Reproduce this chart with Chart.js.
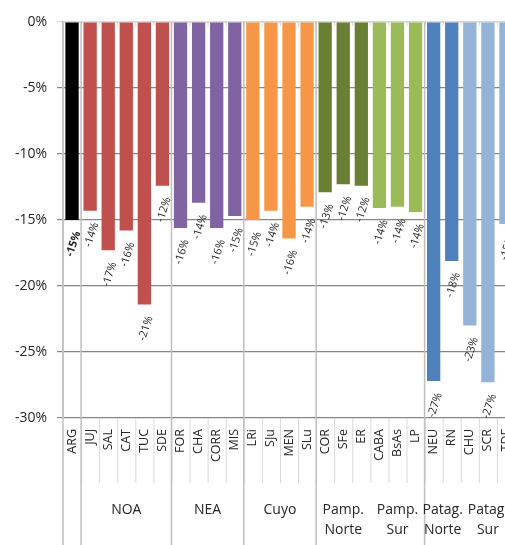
<!DOCTYPE html>
<html>
<head>
<meta charset="utf-8">
<title>Variación por provincia</title>
<script src="https://cdn.jsdelivr.net/npm/chart.js@4.4.1/dist/chart.umd.min.js"></script>
<style>
  html, body { margin: 0; padding: 0; background: #fff; overflow: hidden; }
</style>
</head>
<body>
<canvas id="provincias_chart" width="522" height="545"></canvas>
<script>
// provincias (nivel 1)
const provincias = ['ARG', 'JUJ', 'SAL', 'CAT', 'TUC', 'SDE', 'FOR', 'CHA', 'CORR', 'MIS',
    'LRi', 'SJu', 'MEN', 'SLu', 'COR', 'SFe', 'ER', 'CABA', 'BsAs', 'LP',
    'NEU', 'RN', 'CHU', 'SCR', 'TDF'];

// variacion en %
const variacion = [-15.0, -14.3, -17.3, -15.8, -21.4, -12.4, -15.6, -13.7, -15.6, -14.7,
    -15.0, -14.3, -16.4, -14.0, -12.9, -12.3, -12.4, -14.1, -14.0, -14.4,
    -27.2, -18.1, -23.0, -27.3, -15.3];

// regiones (nivel 2): nombre, primera y ultima provincia
const regiones = [['NOA'], ['NEA'], ['Cuyo'], ['Pamp.', 'Norte'], ['Pamp.', 'Sur'], ['Patag.', 'Norte'], ['Patag.', 'Sur']];
const regionDesde = [1, 6, 10, 14, 17, 20, 22];
const regionHasta = [5, 9, 13, 16, 19, 21, 24];
const regionColor = ['#C0504D', '#8064A2', '#F79646', '#6A7F34', '#9BBB59', '#4F81BD', '#95B3D7'];

// lineas que cortan todo el eje (entre ARG, NOA, NEA, Cuyo, Pampeana, Patagonia)
const cortesGrandes = [1, 6, 10, 14, 20];

const yTicks = [0, -5, -10, -15, -20, -25, -30];

let colores = provincias.map(() => '#000000');
regiones.forEach((r, i) => {
    for (let k = regionDesde[i]; k <= regionHasta[i]; k++) colores[k] = regionColor[i];
});

const textColor = '#262626';

const lineasPlugin = {
    id: 'lineas',
    beforeDatasetsDraw(chart) {
        const ctx = chart.ctx;
        const area = chart.chartArea;
        const paso = (area.right - area.left) / provincias.length;
        const borde = i => area.left + paso * i;
        ctx.save();
        // linea del cero arriba con marcas chicas
        ctx.strokeStyle = '#D9D9D9';
        ctx.lineWidth = 1.5;
        ctx.beginPath();
        ctx.moveTo(area.left, area.top);
        ctx.lineTo(area.right, area.top);
        ctx.stroke();
        ctx.lineWidth = 1;
        for (let i = 1; i < provincias.length; i++) {
            ctx.beginPath();
            ctx.moveTo(borde(i) + 0.5, area.top);
            ctx.lineTo(borde(i) + 0.5, area.top + 4);
            ctx.stroke();
        }
        // marcas entre provincias debajo del eje
        ctx.strokeStyle = '#D9D9D9';
        for (let i = 1; i < provincias.length; i++) {
            ctx.beginPath();
            ctx.moveTo(borde(i) + 0.5, area.bottom);
            ctx.lineTo(borde(i) + 0.5, area.bottom + 65);
            ctx.stroke();
        }
        // cortes grandes de arriba a abajo
        ctx.strokeStyle = '#BFBFBF';
        ctx.lineWidth = 1.5;
        const cortes = [0].concat(cortesGrandes, [provincias.length]);
        cortes.forEach(i => {
            ctx.beginPath();
            ctx.moveTo(borde(i), area.top);
            ctx.lineTo(borde(i), chart.height);
            ctx.stroke();
        });
        ctx.restore();
    },
    afterDatasetsDraw(chart) {
        const ctx = chart.ctx;
        const meta = chart.getDatasetMeta(0);
        ctx.save();
        ctx.fillStyle = textColor;
        ctx.textAlign = 'center';
        ctx.textBaseline = 'middle';
        meta.data.forEach((bar, i) => {
            const v = chart.data.datasets[0].data[i];
            ctx.save();
            ctx.translate(bar.x + 1.5, bar.y + 24);
            ctx.rotate(-72 * Math.PI / 180);
            ctx.font = (i === 0 ? 'bold ' : '') + '11px "Open Sans"';
            ctx.fillText(Math.round(v) + '%', 0, 0);
            ctx.restore();
        });
        ctx.restore();
    },
    afterDraw(chart) {
        const ctx = chart.ctx;
        const x = chart.scales.x;
        ctx.save();
        ctx.fillStyle = textColor;
        ctx.font = '14px "Open Sans"';
        ctx.textAlign = 'center';
        ctx.textBaseline = 'middle';
        regiones.forEach((lineas, i) => {
            const cx = (x.getPixelForValue(regionDesde[i]) + x.getPixelForValue(regionHasta[i])) / 2;
            lineas.forEach((t, j) => ctx.fillText(t, cx, 510 + j * 20));
        });
        ctx.restore();
    }
};

const ctx = document.getElementById('provincias_chart');

new Chart(ctx, {
    type: 'bar',
    data: {
        labels: provincias,
        datasets: [{
            label: 'Variación',
            data: variacion,
            backgroundColor: colores,
            borderWidth: 0,
            barPercentage: 0.735,
            categoryPercentage: 1
        }]
    },
    options: {
        responsive: false,
        animation: false,
        devicePixelRatio: 1,
        layout: {
            padding: { top: 22, right: 7, left: 0, bottom: 0 }
        },
        plugins: {
            legend: { display: false },
            tooltip: { enabled: false }
        },
        scales: {
            x: {
                grid: { display: false, drawTicks: false },
                border: { display: false },
                ticks: {
                    autoSkip: false,
                    maxRotation: 90,
                    minRotation: 90,
                    padding: 11,
                    color: textColor,
                    font: { family: 'Open Sans', size: 12.5 }
                },
                afterFit(scale) {
                    scale.height = 127;
                    scale.paddingLeft = 0;
                    scale.paddingRight = 0;
                }
            },
            y: {
                min: -30,
                max: 0,
                afterBuildTicks(scale) {
                    scale.ticks = yTicks.map(v => ({ value: v }));
                },
                grid: {
                    color: c => (c.tick && c.tick.value === 0) ? '#D9D9D9' : '#868686',
                    lineWidth: 1.2,
                    tickLength: 6
                },
                border: { color: '#BFBFBF', width: 1.5 },
                ticks: {
                    padding: 10,
                    color: textColor,
                    font: { family: 'Open Sans', size: 14 },
                    callback: v => v + '%'
                },
                afterFit(scale) { scale.width = 63; }
            }
        }
    },
    plugins: [lineasPlugin]
});
</script>
</body>
</html>
